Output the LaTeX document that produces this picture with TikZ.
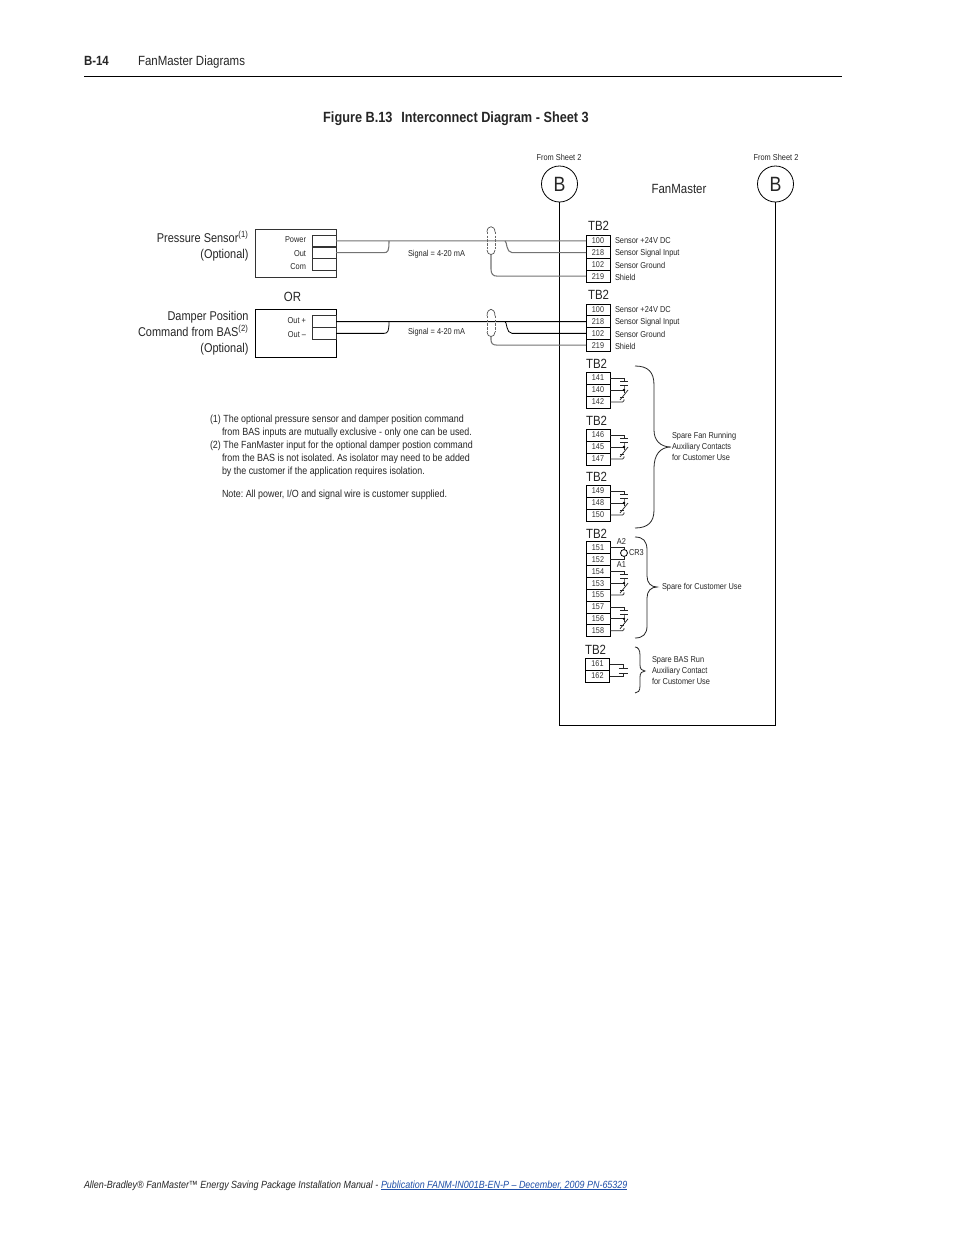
\documentclass[tikz,border=0pt]{standalone}
\usepackage{fontspec}
\setmainfont[FakeStretch=0.86]{Liberation Sans}
\definecolor{linkblue}{HTML}{1F4FA8}
\newcommand{\fsz}[1]{\fontsize{#1}{#1}\selectfont}
\frenchspacing
\tikzset{
  x=0.75pt,y=-0.75pt,
  txt/.style={inner sep=0pt,outer sep=0pt,anchor=base,text=black!85},
  txtw/.style={txt,anchor=base west},
  txte/.style={txt,anchor=base east},
  big/.style={font=\fsz{10}},
  lab/.style={font=\fsz{9.55}},
  tiny/.style={font=\fsz{6.45}},
  term/.style={draw=black,line width=0.6pt,inner sep=0pt,outer sep=0pt,minimum width=18pt,font=\fsz{6.3},text=black!80},
  inner/.style={draw=black!80,line width=0.5pt,inner sep=0pt,outer sep=0pt,minimum width=18pt,minimum height=9pt},
  wiregray/.style={draw=black!55,line width=0.8pt},
  wire/.style={draw=black,line width=0.6pt},
  thin wire/.style={draw=black!85,line width=0.55pt},
  bracecurve/.style={draw=black!85,line width=0.6pt},
  shieldcap/.style={draw=black!70,line width=0.5pt},
  shielddash/.style={draw=black!60,line width=0.5pt,dash pattern=on 1.8pt off 1pt},
  busnode/.style={draw=black,line width=0.6pt,circle,minimum size=27pt,inner sep=0pt,outer sep=0pt,font=\fsz{15.5},text=black!85},
}
% terminal block: name, x-centre, y-top, row height, labels
\newcommand{\tblock}[5]{%
  \foreach \l [count=\i] in {#5}{%
    \pgfmathsetmacro{\yy}{#3+(\i-0.5)*#4}%
    \pgfmathsetlengthmacro{\hh}{#4*0.75pt}%
    \node[term,minimum height=\hh] (#1-\i) at (#2,\yy) {\l};
  }%
}
% changeover contact: top, middle, bottom terminals
\newcommand{\auxcontact}[3]{%
  \path (#2.east) ++(14,0) coordinate (#2-m);
  \path (#1.east) ++(14,0) coordinate (#1-m);
  \path (#3.east) ++(14,0) coordinate (#3-m);
  \draw[thin wire] (#1.east) -- (#1-m) -- ([yshift=-2.6pt]#1-m);
  \draw[thin wire] ([xshift=-3pt,yshift=-2.6pt]#1-m) -- ([xshift=3pt,yshift=-2.6pt]#1-m);
  \draw[thin wire] ([xshift=-3pt,yshift=3.7pt]#2-m) -- ([xshift=3pt,yshift=3.7pt]#2-m);
  \draw[thin wire] ([yshift=3.7pt]#2-m) -- (#2-m) -- ([yshift=-2pt]#2-m);
  \draw[thin wire] (#2.east) -- (#2-m);
  \fill[black] (#2-m) circle (1pt);
  \draw[thin wire] ([xshift=3pt]#2-m) -- ([xshift=-3pt,yshift=-7.5pt]#2-m);
  \draw[thin wire] ([xshift=-3pt,yshift=-5.2pt]#2-m) -- ([yshift=-5.2pt]#2-m);
  \draw[thin wire,rounded corners=1pt] (#3.east) -- (#3-m) -- ([yshift=2pt]#3-m);
}
\begin{document}
\begin{tikzpicture}
\useasboundingbox (0,0) rectangle (954,1235);
\fill[white] (0,0) rectangle (954,1235);
% header
\node[txtw,font=\fsz{10}\bfseries] (pgno) at (84,65) {B-14};
\node[txtw,big] (hdr) at (138,65) {FanMaster Diagrams};
\coordinate (ruleL) at (84,76.5);
\coordinate (ruleR) at (842,76.5);
\draw[line width=0.7pt] (ruleL) -- (ruleR);
\node[txt,font=\fsz{11.1}\bfseries] (title) at (456,122) {Figure B.13\hspace{0.6em}Interconnect Diagram - Sheet 3};
% FanMaster frame
\node[busnode] (busL) at (559.5,184) {B};
\node[busnode] (busR) at (775.5,184) {B};
\node[txt,tiny] (fsL) at (559,160) {From Sheet 2};
\node[txt,tiny] (fsR) at (776,160) {From Sheet 2};
\node[txt,big] (fm) at (679,193) {FanMaster};
\coordinate (frameL) at (559.5,725);
\coordinate (frameR) at (775.5,725);
\draw[wire] (busL.south) -- (frameL) -- (frameR) -- (busR.south);
% sensor boxes
\node[draw=black!80,line width=0.6pt,minimum width=60.75pt,minimum height=36pt,inner sep=0pt,outer sep=0pt] (sensA) at (295.5,253) {};
\node[draw=black,line width=0.6pt,minimum width=60.75pt,minimum height=36pt,inner sep=0pt,outer sep=0pt] (sensB) at (295.5,333) {};
\node[inner] (a1) at (324,240.9) {};
\node[inner] (a2) at (324,252.65) {};
\node[inner] (a3) at (324,264.6) {};
\node[inner] (b1) at (324,321.6) {};
\node[inner] (b2) at (324,333.35) {};
\node[txte,tiny] (lpow) at (306,242) {Power};
\node[txte,tiny] (lout) at (306,256) {Out};
\node[txte,tiny] (lcom) at (306,269) {Com};
\node[txte,tiny] (loutp) at (306,323) {Out +};
\node[txte,tiny] (loutm) at (306,337) {Out –};
\node[txte,lab] (ps1) at (248.5,242) {Pressure Sensor\textsuperscript{(1)}};
\node[txte,lab] (ps2) at (248.5,258) {(Optional)};
\node[txt,big] (orl) at (292.5,301) {OR};
\node[txte,lab] (dp1) at (248.5,320) {Damper Position};
\node[txte,lab] (dp2) at (248.5,336) {Command from BAS\textsuperscript{(2)}};
\node[txte,lab] (dp3) at (248.5,352) {(Optional)};
% terminal blocks
\tblock{ta}{598}{235}{11.75}{100,218,102,219}
\tblock{tb}{598}{304}{11.75}{100,218,102,219}
\tblock{tc}{598}{372}{12}{141,140,142}
\tblock{td}{598}{429}{12}{146,145,147}
\tblock{te}{598}{485}{12}{149,148,150}
\tblock{tf}{598}{541.5}{11.9}{151,152,154,153,155,157,156,158}
\tblock{tg}{597.5}{658}{12}{161,162}
\node[txtw,big] (tb1) at (588,230) {TB2};
\node[txtw,big] (tb2) at (588,299) {TB2};
\node[txtw,big] (tb3) at (586,368) {TB2};
\node[txtw,big] (tb4) at (586,425) {TB2};
\node[txtw,big] (tb5) at (586,481) {TB2};
\node[txtw,big] (tb6) at (586,538) {TB2};
\node[txtw,big] (tb7) at (585,654) {TB2};
% terminal descriptions
\foreach \n/\yy/\s in {da1/243/Sensor +24V DC,da2/255/Sensor Signal Input,da3/268/Sensor Ground,da4/280/Shield,db1/312/Sensor +24V DC,db2/324/Sensor Signal Input,db3/337/Sensor Ground,db4/349/Shield}{
  \node[txtw,tiny] (\n) at (615,\yy) {\s};
}
% pressure sensor wiring
\node[txt,tiny] (sigA) at (436.5,256) {Signal = 4-20 mA};
\node[txt,tiny] (sigB) at (436.5,334) {Signal = 4-20 mA};
\draw[wiregray] (a1.east) -- (ta-1.west);
\draw[wiregray] (a2.east) -- (384,252.65) .. controls (388,252.65) and (389,251) .. (389,240.9);
\draw[wiregray] (505,240.9) .. controls (507,240.9) and (506,252.65) .. (512,252.65) -- (ta-2.west);
\coordinate (shA) at (491,255);
\draw[wiregray] (shA) -- (491,269) .. controls (491,274) and (493,276.1) .. (497,276.1) -- (ta-4.west);
\draw[shieldcap] (487,232) .. controls (487,225) and (495,225) .. (495,232);
\draw[shielddash] (487,232) -- (487,250);
\draw[shielddash] (495,232) -- (495,250);
\draw[shieldcap] (487,250) .. controls (487,256) and (495,256) .. (495,250);
% damper wiring
\draw[wire] (b1.east) -- (tb-2.west);
\draw[wire] (b2.east) -- (384,333.35) .. controls (388,333.35) and (389,331) .. (389,321.6);
\draw[wire] (505,321.6) .. controls (507,321.6) and (506,333.35) .. (512,333.35) -- (tb-3.west);
\coordinate (shB) at (491,337);
\draw[wiregray] (shB) -- (491,340) .. controls (491,343.5) and (493,345.1) .. (497,345.1) -- (tb-4.west);
\draw[shieldcap] (487,316) .. controls (487,307) and (495,307) .. (495,316);
\draw[shielddash] (487,316) -- (487,332);
\draw[shielddash] (495,316) -- (495,332);
\draw[shieldcap] (487,332) .. controls (487,338) and (495,338) .. (495,332);
% contacts
\auxcontact{tc-1}{tc-2}{tc-3}
\auxcontact{td-1}{td-2}{td-3}
\auxcontact{te-1}{te-2}{te-3}
\auxcontact{tf-3}{tf-4}{tf-5}
\auxcontact{tf-6}{tf-7}{tf-8}
% coil
\node[draw=black,line width=0.6pt,circle,minimum size=5.2pt,inner sep=0pt,outer sep=0pt] (coil) at (624,553) {};
\draw[thin wire] (tf-1.east) -| (coil.north);
\draw[thin wire] (tf-2.east) -| (coil.south);
\node[txt,tiny] (a2l) at (621.5,544) {A2};
\node[txt,tiny] (a1l) at (621.5,567) {A1};
\node[txtw,tiny] (cr3) at (629,555.5) {CR3};
% BAS contact
\path (tg-1.east) ++(14,0) coordinate (tg-1-m);
\path (tg-2.east) ++(14,0) coordinate (tg-2-m);
\draw[thin wire] (tg-1.east) -- (tg-1-m) -- ([yshift=-3.4pt]tg-1-m);
\draw[thin wire] ([xshift=-3.4pt,yshift=-3.4pt]tg-1-m) -- ([xshift=3.4pt,yshift=-3.4pt]tg-1-m);
\draw[thin wire] ([xshift=-3.4pt,yshift=2.2pt]tg-2-m) -- ([xshift=3.4pt,yshift=2.2pt]tg-2-m);
\draw[thin wire] (tg-2.east) -- (tg-2-m) -- ([yshift=2.2pt]tg-2-m);
% braces
\draw[bracecurve] (635,366) .. controls (648,366) and (654,372) .. (654,385) -- (654,430) .. controls (654,440) and (660,447) .. (671,447) .. controls (660,447) and (654,455) .. (654,468) -- (654,510) .. controls (654,522) and (648,528) .. (635,528);
\draw[bracecurve] (635,537) .. controls (643,537) and (647,541) .. (647,550) -- (647,576) .. controls (647,583) and (651,587) .. (657,587) .. controls (651,587) and (647,591) .. (647,598) -- (647,626) .. controls (647,634) and (643,638) .. (635,638);
\draw[bracecurve] (635,647) .. controls (638,647) and (640,650) .. (640,655) -- (640,665) .. controls (640,669) and (642,671) .. (645,671) .. controls (642,671) and (640,673) .. (640,677) -- (640,686) .. controls (640,691) and (638,693) .. (635,693);
\foreach \n/\xx/\yy/\s in {sf1/672/438/Spare Fan Running,sf2/672/449/Auxiliary Contacts,sf3/672/460/for Customer Use,sc1/662/589/Spare for Customer Use,sb1/652/662/Spare BAS Run,sb2/652/673/Auxiliary Contact,sb3/652/684/for Customer Use}{
  \node[txtw,tiny] (\n) at (\xx,\yy) {\s};
}
% notes
\foreach \n/\xx/\yy/\s in {
 n1/210/422/{(1) The optional pressure sensor and damper position command},
 n2/222/435/{from BAS inputs are mutually exclusive - only one can be used.},
 n3/210/448/{(2) The FanMaster input for the optional damper postion command},
 n4/222/461/{from the BAS is not isolated. As isolator may need to be added},
 n5/222/474/{by the customer if the application requires isolation.},
 n6/222/497/{Note: All power, I/O and signal wire is customer supplied.}}{
  \node[txtw,font=\fsz{7.78}] (\n) at (\xx,\yy) {\s};
}
% footer
\node[txtw,font=\fsz{7.8}\itshape] (ftl) at (84,1188) {Allen-Bradley® FanMaster™ Energy Saving Package Installation Manual - };
\node[txtw,font=\fsz{7.8}\itshape,text=linkblue] (ftr) at (381,1188) {Publication FANM-IN001B-EN-P – December, 2009 PN-65329};
\draw[linkblue,line width=0.4pt] ([yshift=-1pt]ftr.base west) -- ([yshift=-1pt]ftr.base east);
\end{tikzpicture}
\end{document}
